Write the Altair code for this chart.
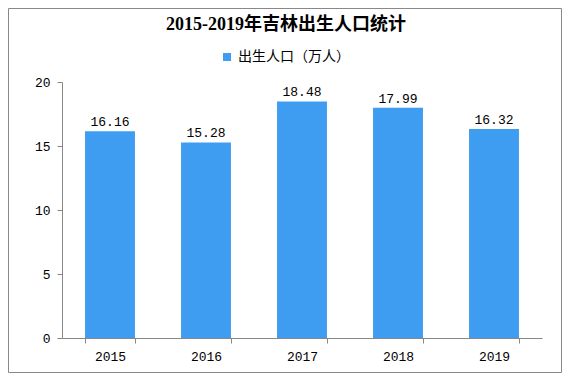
import altair as alt
import pandas as pd

years = ["2015", "2016", "2017", "2018", "2019"]
births = [16.16, 15.28, 18.48, 17.99, 16.32]
series_name = "出生人口（万人）"
y_ticks = [0, 5, 10, 15, 20]

df = pd.DataFrame({"year": years, "value": births, "series": [series_name] * len(years)})

bar_color = "#3E9DF0"
axis_gray = "#888888"
mono = "Liberation Mono"

x = alt.X("year:N", sort=years, title=None,
          scale=alt.Scale(paddingInner=0.48, paddingOuter=0.24),
          axis=alt.Axis(labelAngle=0, tickBand="extent", tickSize=5, labelPadding=7,
                        domainColor=axis_gray, tickColor=axis_gray, labelColor="#000",
                        labelFont=mono, labelFontSize=13))
y = alt.Y("value:Q", title=None,
          scale=alt.Scale(domain=[0, 20], nice=False),
          axis=alt.Axis(values=y_ticks, grid=False, tickSize=5, labelPadding=7,
                        domainColor=axis_gray, tickColor=axis_gray, labelColor="#000",
                        labelFont=mono, labelFontSize=13))

bars = alt.Chart(df).mark_bar().encode(
    x=x, y=y,
    color=alt.Color("series:N", title=None,
                    scale=alt.Scale(range=[bar_color]),
                    legend=alt.Legend(orient="none", legendX=158, legendY=-32,
                                      symbolType="square", symbolSize=64,
                                      labelFont="Noto Sans CJK SC", labelFontSize=14,
                                      labelColor="#000", symbolStrokeWidth=0)),
)

labels = alt.Chart(df).mark_text(baseline="bottom", dy=-2, font=mono, fontSize=13, color="#000").encode(
    x=alt.X("year:N", sort=years), y="value:Q", text=alt.Text("value:Q", format=".2f")
)

frame = alt.Chart(df).mark_rect(fill=None, stroke=axis_gray, strokeWidth=1, clip=False).encode(
    x=alt.value(-53.5), x2=alt.value(499.5), y=alt.value(-73.5), y2=alt.value(290.5)
).transform_filter(alt.datum.year == years[0])

chart = alt.layer(frame, bars, labels).properties(
    width=480, height=256,
    padding={"left": 54, "top": 74, "right": 20, "bottom": 35},
    autosize=alt.AutoSizeParams(type="none"),
    title=alt.Title("2015-2019年吉林出生人口统计", anchor="middle", dx=-16, offset=-26,
                    font="Liberation Serif, Noto Sans CJK SC", fontSize=18, fontWeight="bold",
                    color="#000"),
).configure_view(stroke=None)

chart.save("out.html", embed_options={"renderer": "svg", "actions": False})
